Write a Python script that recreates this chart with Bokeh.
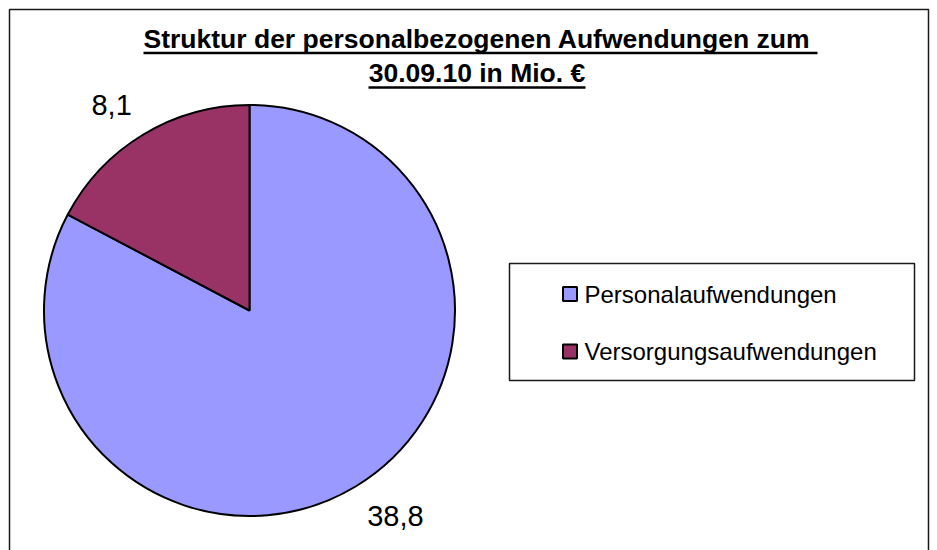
import math
from bokeh.plotting import figure
from bokeh.models import Range1d, ColumnDataSource
from bokeh.embed import file_html
from bokeh.resources import INLINE
from bokeh.core.properties import value

# ---- data ----
categories = ["Personalaufwendungen", "Versorgungsaufwendungen"]
values = [38.8, 8.1]
value_labels = ["38,8", "8,1"]
colors = ["#9999FF", "#993366"]
title_lines = ["Struktur der personalbezogenen Aufwendungen zum", "30.09.10 in Mio. €"]

FONT = value("Liberation Sans")
W, H = 937, 550

p = figure(width=W, height=H, x_range=Range1d(0, W), y_range=Range1d(0, H),
           output_backend="svg", toolbar_location=None, min_border=0,
           x_axis_location=None, y_axis_location=None)
p.grid.visible = False
p.outline_line_color = None
p.background_fill_color = "white"
p.border_fill_color = "white"


def X(px):
    return px


def Y(py):
    return H - py


# chart border (bottom edge lies outside the visible window)
p.multi_line(xs=[[X(9), X(9), X(928), X(928)]], ys=[[0, Y(9), Y(9), 0]],
             line_color="#1a1a1a", line_width=1.5)

# ---- pie ----
total = sum(values)
cx, cy, r = X(249), Y(310), 205.5
starts, ends, mids = [], [], []
cum = 0.0
for v in values:
    a0 = math.pi / 2 - 2 * math.pi * cum / total
    cum += v
    a1 = math.pi / 2 - 2 * math.pi * cum / total
    starts.append(a1)
    ends.append(a0)
    mids.append((a0 + a1) / 2)

src = ColumnDataSource(dict(start=starts, end=ends, color=colors, name=categories))
p.wedge(x=cx, y=cy, radius=r, start_angle="start", end_angle="end",
        fill_color="color", line_color="black", line_width=2, source=src)

# ---- value labels (outside end, nearest corner on mid-angle) ----
lr = 228
half_h = 10
for m, lab in zip(mids, value_labels):
    lx = cx + lr * math.cos(m)
    ly = cy + lr * math.sin(m)
    align = "right" if math.cos(m) < 0 else "left"
    ly = ly + half_h if math.sin(m) > 0 else ly - half_h
    p.text(x=[lx], y=[ly], text=[lab], text_font=FONT, text_font_size="29px",
           text_align=align, text_baseline="middle", text_color="black")

# ---- title ----
title_y = [38.5, 72]
for t, ty in zip(title_lines, title_y):
    p.text(x=[X(476.5)], y=[Y(ty)], text=[t], text_font=FONT, text_font_size="26.5px",
           text_font_style="bold", text_align="center", text_baseline="middle",
           text_color="black")
p.segment(x0=[X(143), X(368)], y0=[Y(52.5), Y(87)], x1=[X(817), X(585)], y1=[Y(52.5), Y(87)],
          line_color="black", line_width=2.5)

# ---- legend ----
lx0, lx1, ly0, ly1 = 509, 914, 263, 380
p.quad(left=[X(lx0)], right=[X(lx1)], top=[Y(ly0)], bottom=[Y(ly1)],
       fill_color="white", line_color="#1a1a1a", line_width=1.5)
row_y = [Y(293.5 + i * 57.5) for i in range(len(categories))]
p.rect(x=[X(569.5)] * len(categories), y=row_y, width=14, height=14,
       fill_color=colors, line_color="black", line_width=2)
p.text(x=[X(584)] * len(categories), y=row_y, text=categories, text_font=FONT,
       text_font_size="24px", text_align="left", text_baseline="middle", text_color="black")

open("out.html", "w").write(file_html(p, INLINE))
